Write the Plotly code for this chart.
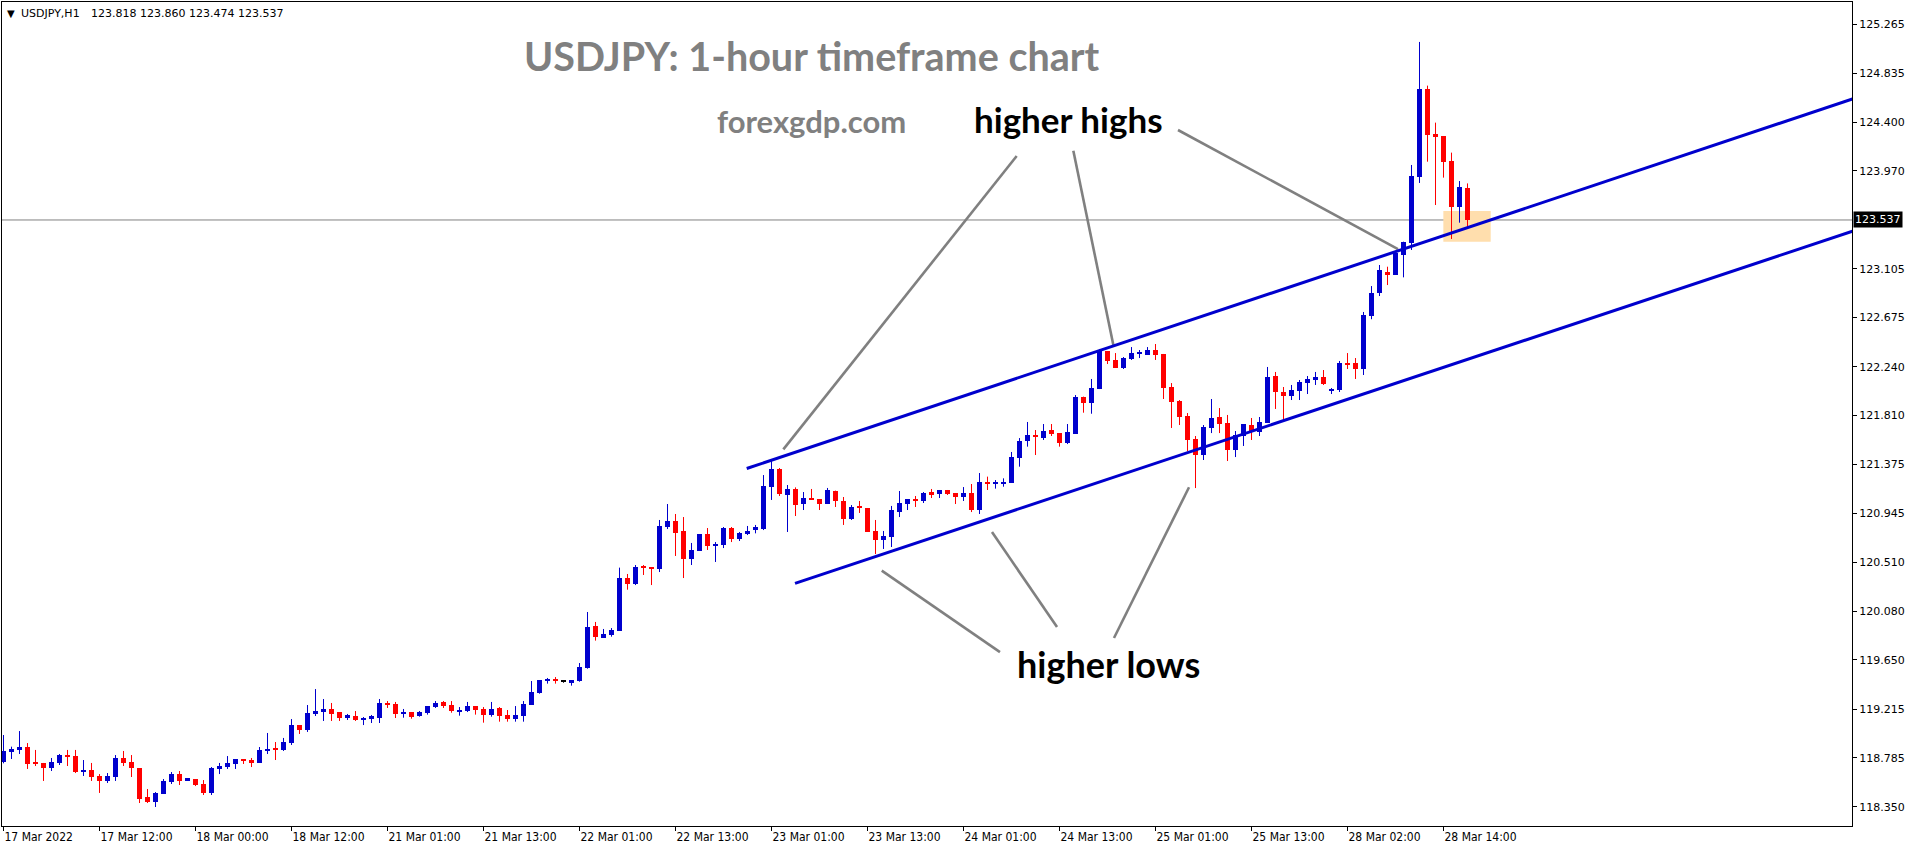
import plotly.graph_objects as go

# ---------------- data ----------------
opens = [118.750, 118.839, 118.854, 118.880, 118.739, 118.739, 118.694, 118.739, 118.809, 118.800,
         118.659, 118.677, 118.624, 118.580, 118.615, 118.783, 118.747, 118.694, 118.438, 118.394,
         118.465, 118.571, 118.641, 118.580, 118.597, 118.553, 118.474, 118.686, 118.703, 118.730,
         118.774, 118.765, 118.739, 118.845, 118.862, 118.854, 118.915, 119.074, 119.030, 119.172,
         119.189, 119.216, 119.189, 119.136, 119.154, 119.119, 119.127, 119.136, 119.269, 119.260,
         119.174, 119.186, 119.157, 119.183, 119.233, 119.278, 119.251, 119.192, 119.198, 119.242,
         119.216, 119.166, 119.225, 119.163, 119.130, 119.157, 119.254, 119.360, 119.466, 119.481,
         119.463, 119.448, 119.466, 119.581, 119.949, 119.846, 119.873, 119.908, 120.373, 120.320,
         120.470, 120.470, 120.453, 120.824, 120.877, 120.789, 120.541, 120.615, 120.762, 120.659,
         120.665, 120.815, 120.718, 120.765, 120.797, 120.806, 121.177, 121.336, 121.110, 121.160,
         121.030, 121.080, 121.071, 121.027, 121.145, 121.054, 120.895, 121.001, 120.992, 120.789,
         120.709, 120.736, 120.956, 121.027, 121.071, 121.054, 121.133, 121.116, 121.151, 121.124,
         121.089, 121.124, 120.974, 121.224, 121.210, 121.210, 121.216, 121.436, 121.584, 121.637,
         121.610, 121.681, 121.654, 121.569, 121.646, 121.976, 121.923, 122.043, 122.379, 122.300,
         122.229, 122.308, 122.356, 122.344, 122.388, 122.353, 122.061, 121.937, 121.805, 121.601,
         121.460, 121.699, 121.796, 121.743, 121.504, 121.628, 121.725, 121.663, 121.743, 122.158,
         122.017, 121.981, 122.026, 122.096, 122.123, 122.149, 122.026, 122.034, 122.273, 122.273,
         122.220, 122.690, 122.892, 123.074, 123.051, 123.227, 123.336, 123.920, 124.694, 124.297,
         124.279, 124.058, 123.654, 123.818]
highs = [118.986, 118.883, 119.021, 118.915, 118.854, 118.739, 118.783, 118.818, 118.854, 118.854,
         118.765, 118.739, 118.641, 118.650, 118.809, 118.845, 118.809, 118.694, 118.509, 118.482,
         118.597, 118.659, 118.668, 118.606, 118.597, 118.588, 118.703, 118.739, 118.800, 118.774,
         118.774, 118.783, 118.880, 119.004, 118.924, 118.960, 119.127, 119.074, 119.251, 119.392,
         119.304, 119.269, 119.189, 119.172, 119.198, 119.145, 119.163, 119.304, 119.286, 119.278,
         119.216, 119.186, 119.198, 119.242, 119.286, 119.286, 119.286, 119.233, 119.278, 119.242,
         119.233, 119.278, 119.233, 119.207, 119.242, 119.286, 119.463, 119.472, 119.490, 119.498,
         119.472, 119.472, 119.622, 120.073, 119.985, 119.923, 119.931, 120.465, 120.409, 120.488,
         120.488, 120.470, 120.886, 121.027, 120.939, 120.912, 120.683, 120.762, 120.815, 120.691,
         120.824, 120.824, 120.780, 120.833, 120.842, 121.283, 121.416, 121.345, 121.195, 121.174,
         121.133, 121.160, 121.071, 121.169, 121.145, 121.089, 121.018, 121.054, 120.992, 120.886,
         120.789, 121.010, 121.142, 121.071, 121.098, 121.133, 121.160, 121.151, 121.151, 121.124,
         121.177, 121.204, 121.301, 121.269, 121.239, 121.254, 121.487, 121.610, 121.752, 121.681,
         121.734, 121.734, 121.654, 121.734, 121.990, 121.976, 122.132, 122.397, 122.379, 122.361,
         122.326, 122.414, 122.388, 122.414, 122.441, 122.353, 122.096, 121.946, 121.831, 121.628,
         121.725, 121.955, 121.875, 121.814, 121.672, 121.734, 121.787, 121.796, 122.238, 122.194,
         122.061, 122.079, 122.123, 122.158, 122.194, 122.211, 122.052, 122.291, 122.361, 122.317,
         122.724, 122.953, 123.139, 123.124, 123.242, 123.345, 124.023, 125.110, 124.724, 124.397,
         124.279, 124.132, 123.881, 123.860]
lows = [118.736, 118.774, 118.818, 118.686, 118.712, 118.580, 118.668, 118.721, 118.712, 118.650,
        118.624, 118.580, 118.474, 118.562, 118.580, 118.712, 118.615, 118.385, 118.385, 118.350,
        118.465, 118.553, 118.544, 118.580, 118.535, 118.456, 118.456, 118.641, 118.686, 118.686,
        118.730, 118.703, 118.739, 118.818, 118.765, 118.845, 118.898, 118.995, 119.013, 119.154,
        119.110, 119.110, 119.110, 119.119, 119.110, 119.074, 119.092, 119.092, 119.225, 119.136,
        119.139, 119.130, 119.148, 119.166, 119.225, 119.225, 119.183, 119.157, 119.189, 119.166,
        119.095, 119.148, 119.104, 119.104, 119.104, 119.104, 119.254, 119.351, 119.440, 119.440,
        119.448, 119.422, 119.457, 119.572, 119.820, 119.846, 119.855, 119.908, 120.270, 120.311,
        120.400, 120.311, 120.426, 120.806, 120.568, 120.373, 120.488, 120.615, 120.621, 120.515,
        120.638, 120.691, 120.700, 120.753, 120.768, 120.797, 121.063, 121.098, 120.780, 120.921,
        120.974, 121.063, 120.974, 121.027, 121.001, 120.842, 120.886, 120.948, 120.780, 120.585,
        120.630, 120.647, 120.912, 120.974, 121.001, 121.036, 121.080, 121.080, 121.107, 121.027,
        121.054, 120.956, 120.939, 121.151, 121.163, 121.180, 121.216, 121.357, 121.534, 121.460,
        121.593, 121.628, 121.534, 121.557, 121.646, 121.834, 121.825, 122.043, 122.264, 122.229,
        122.220, 122.300, 122.317, 122.344, 122.300, 121.955, 121.699, 121.725, 121.495, 121.168,
        121.416, 121.654, 121.654, 121.407, 121.442, 121.540, 121.593, 121.628, 121.743, 121.867,
        121.769, 121.946, 121.946, 121.999, 122.079, 122.079, 121.999, 122.017, 122.220, 122.132,
        122.167, 122.660, 122.865, 122.962, 123.051, 123.030, 123.272, 123.864, 124.052, 123.669,
        123.911, 123.369, 123.513, 123.474]
closes = [118.845, 118.862, 118.880, 118.730, 118.733, 118.694, 118.747, 118.809, 118.800, 118.659,
          118.677, 118.615, 118.580, 118.624, 118.783, 118.739, 118.694, 118.421, 118.394, 118.474,
          118.580, 118.641, 118.580, 118.606, 118.544, 118.474, 118.694, 118.712, 118.739, 118.774,
          118.756, 118.739, 118.854, 118.862, 118.854, 118.924, 119.074, 119.030, 119.180, 119.198,
          119.216, 119.172, 119.136, 119.163, 119.119, 119.136, 119.154, 119.269, 119.251, 119.172,
          119.192, 119.148, 119.189, 119.242, 119.269, 119.245, 119.201, 119.207, 119.242, 119.207,
          119.166, 119.216, 119.157, 119.130, 119.163, 119.260, 119.366, 119.472, 119.481, 119.466,
          119.463, 119.472, 119.587, 119.940, 119.855, 119.878, 119.914, 120.373, 120.323, 120.470,
          120.462, 120.453, 120.833, 120.877, 120.774, 120.541, 120.621, 120.762, 120.656, 120.674,
          120.815, 120.721, 120.771, 120.789, 120.824, 121.186, 121.336, 121.116, 121.160, 121.018,
          121.080, 121.063, 121.027, 121.151, 121.057, 120.895, 121.001, 120.992, 120.780, 120.709,
          120.744, 120.974, 121.036, 121.071, 121.054, 121.124, 121.107, 121.151, 121.116, 121.089,
          121.124, 120.974, 121.222, 121.210, 121.224, 121.224, 121.442, 121.584, 121.637, 121.622,
          121.672, 121.646, 121.569, 121.663, 121.976, 121.923, 122.052, 122.388, 122.291, 122.229,
          122.317, 122.361, 122.370, 122.388, 122.344, 122.052, 121.928, 121.796, 121.593, 121.460,
          121.708, 121.787, 121.734, 121.504, 121.637, 121.734, 121.672, 121.752, 122.149, 122.017,
          121.981, 122.034, 122.105, 122.132, 122.149, 122.087, 122.043, 122.273, 122.264, 122.220,
          122.697, 122.892, 123.095, 123.057, 123.242, 123.345, 123.926, 124.694, 124.288, 124.273,
          124.052, 123.654, 123.828, 123.537]

time_tick_bars = [0, 12, 24, 36, 48, 60, 72, 84, 96, 108, 120, 132, 144, 156, 168, 180]
time_tick_labels = ["17 Mar 2022", "17 Mar 12:00", "18 Mar 00:00", "18 Mar 12:00", "21 Mar 01:00",
                    "21 Mar 13:00", "22 Mar 01:00", "22 Mar 13:00", "23 Mar 01:00", "23 Mar 13:00",
                    "24 Mar 01:00", "24 Mar 13:00", "25 Mar 01:00", "25 Mar 13:00", "28 Mar 02:00",
                    "28 Mar 14:00"]
price_ticks = [125.265, 124.835, 124.400, 123.970, 123.105, 122.675, 122.240, 121.810,
               121.375, 120.945, 120.510, 120.080, 119.650, 119.215, 118.785, 118.350]
last_price = 123.537
symbol_label = "USDJPY,H1"
header_ohlc = "123.818 123.860 123.474 123.537"

# drawn objects (bar index, price)
upper_channel = ([92.90, 235.0], [121.341, 124.698])
lower_channel = ([98.94, 235.0], [120.326, 123.529])
pointer_highs = [([97.48, 126.65], [121.510, 124.102]),
                 ([133.73, 138.73], [124.149, 122.432]),
                 ([146.81, 174.31], [124.332, 123.280])]
pointer_lows = [([109.78, 124.56], [120.438, 119.719]),
                ([123.56, 131.69], [120.780, 119.940]),
                ([148.19, 138.81], [121.175, 119.843])]
retest_box = ([179.98, 185.9], [123.345, 123.616])

# ---------------- layout geometry ----------------
W, H = 1916, 850
PL, PR, PT, PB = 2, 1852, 2, 826
X_RANGE = [-0.1875, 231.0625]
Y_RANGE = [118.182, 125.463]

def px(x):
    return (x - PL) / (PR - PL)

def py(y):
    return (PB - y) / (PB - PT)

BLUE = "#0000CD"
RED = "#FF0000"

fig = go.Figure()

# highlight box and last-price line
fig.add_shape(type="rect", xref="x", yref="y", x0=retest_box[0][0], x1=retest_box[0][1],
              y0=retest_box[1][0], y1=retest_box[1][1], fillcolor="rgb(255,222,173)",
              line=dict(width=0), layer="below")
fig.add_shape(type="line", xref="paper", yref="y", x0=0, x1=1, y0=last_price, y1=last_price,
              line=dict(color="#808080", width=1), layer="below")

# candles
groups = {"up": [], "down": [], "flat": []}
for i in range(len(opens)):
    if closes[i] > opens[i]:
        groups["up"].append(i)
    elif closes[i] < opens[i]:
        groups["down"].append(i)
    else:
        groups["flat"].append(i)
colors = {"up": BLUE, "down": RED, "flat": "#000000"}
MIN_BODY = 0.009

for key, idx in groups.items():
    if not idx:
        continue
    c = colors[key]
    base = [min(opens[i], closes[i]) for i in idx]
    hgt = [max(abs(closes[i] - opens[i]), MIN_BODY) for i in idx]
    fig.add_trace(go.Bar(x=idx, y=hgt, base=base, width=0.625,
                         marker=dict(color=c, line=dict(width=0)), opacity=1,
                         hoverinfo="skip", showlegend=False))
for key, idx in groups.items():
    if not idx:
        continue
    c = colors[key]
    wx, wy = [], []
    for i in idx:
        wx += [i, i, None]
        wy += [lows[i], highs[i], None]
    fig.add_trace(go.Scatter(x=wx, y=wy, mode="lines", line=dict(color=c, width=1),
                             hoverinfo="skip", showlegend=False))

# gray pointer lines
for xs, ys in pointer_highs + pointer_lows:
    fig.add_trace(go.Scatter(x=xs, y=ys, mode="lines", line=dict(color="#808080", width=2.6),
                             hoverinfo="skip", showlegend=False))
# channel lines
for xs, ys in (upper_channel, lower_channel):
    fig.add_trace(go.Scatter(x=xs, y=ys, mode="lines", line=dict(color=BLUE, width=3),
                             hoverinfo="skip", showlegend=False))

annotations = []
def text(x, y, s, size, color, family="Lato", weight="bold", xanchor="left"):
    annotations.append(dict(xref="paper", yref="paper", x=px(x), y=py(y),
                            text=s, showarrow=False, xanchor=xanchor, yanchor="middle",
                            font=dict(family=family, size=size, color=color, weight=weight)))

# header
text(5, 13, "\u25BC", 10, "#000000", family="DejaVu Sans", weight="normal")
text(19, 13, symbol_label, 11, "#000000", family="DejaVu Sans", weight="normal")
text(89, 13, header_ohlc, 11, "#000000", family="DejaVu Sans", weight="normal")

# big labels
text(522, 56, "USDJPY: 1-hour timeframe chart", 39.5, "#808080")
text(715, 121, "forexgdp.com", 31, "#808080")
text(972, 119, "higher highs", 35, "#000000")
text(1015, 664, "higher lows", 36, "#000000")

# last price tag on the axis
annotations.append(dict(xref="paper", yref="y", x=px(1853), y=last_price, text=f"{last_price:.3f}",
                        showarrow=False, xanchor="left", yanchor="middle", bgcolor="#000000",
                        borderpad=1, font=dict(family="DejaVu Sans", size=11, color="#FFFFFF")))

fig.update_layout(
    width=W, height=H,
    margin=dict(l=PL, r=W - PR, t=PT, b=H - PB, pad=0),
    paper_bgcolor="white", plot_bgcolor="white",
    barmode="overlay", bargap=0, showlegend=False,
    annotations=annotations,
    xaxis=dict(range=X_RANGE, tickvals=time_tick_bars, ticktext=time_tick_labels,
               ticks="outside", ticklen=4, tickcolor="#000000", tickwidth=1,
               showline=True, mirror=True, linecolor="#000000", linewidth=1,
               showgrid=False, zeroline=False, automargin=False,
               ticklabelposition="outside right",
               tickfont=dict(family="DejaVu Sans Condensed", size=12, color="#000000")),
    yaxis=dict(range=Y_RANGE, side="right", tickvals=price_ticks,
               ticktext=[f"{v:.3f}" for v in price_ticks],
               ticks="outside", ticklen=4, tickcolor="#000000", tickwidth=1,
               showline=True, mirror=True, linecolor="#000000", linewidth=1,
               showgrid=False, zeroline=False, automargin=False,
               tickfont=dict(family="DejaVu Sans", size=11, color="#000000")),
)

fig.write_html("out.html")
